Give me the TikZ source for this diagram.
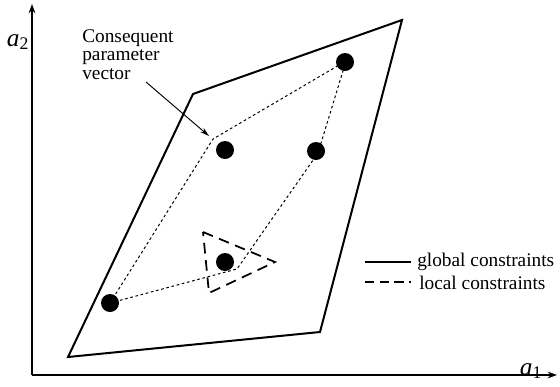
\documentclass[tikz,border=0pt]{standalone}
\usepackage{fontspec}
\setmainfont{Liberation Serif}
\usetikzlibrary{arrows.meta}

\begin{document}
\begin{tikzpicture}[x=0.75pt,y=-0.75pt,
    font=\fontsize{14.5}{14}\selectfont,
    axis/.style ={line width=1.1pt, -{Stealth[length=7pt,width=5pt]}},
    axislabel/.style ={font=\fontsize{19}{19}\selectfont},
    global/.style ={line width=1.5pt, line join=miter},
    local/.style ={line width=1.3pt, dash pattern=on 8pt off 5pt},
    hull/.style ={line width=0.75pt, dash pattern=on 2pt off 2pt},
    vec/.style ={circle, fill, inner sep=0pt, minimum size=13.5pt}]
   \useasboundingbox (0,0) rectangle (560,386);

   % axes
   \coordinate (O) at (32,375);
   \coordinate (Ytop) at (32,4);
   \coordinate (Xend) at (557,375);
   \draw[axis] (O) -- (Ytop);
   \draw[axis] (O) -- (Xend);
   \node[axislabel] (a2) at (18,42) {\textit{a}\textsubscript{2}};
   \node[axislabel] (a1) at (531,371) {\textit{a}\textsubscript{1}};

   % global constraints
   \coordinate (G1) at (68,357);
   \coordinate (G2) at (320,332);
   \coordinate (G3) at (402,20);
   \coordinate (G4) at (193,94);
   \draw[global] (G1) -- (G2) -- (G3) -- (G4) -- cycle;

   % consequent vectors
   \node[vec] (V1) at (345,62)  {};
   \node[vec] (V2) at (225,150) {};
   \node[vec] (V3) at (316,151) {};
   \node[vec] (V4) at (225,262) {};
   \node[vec] (V5) at (110,303) {};

   \coordinate (H1) at (110,303);
   \coordinate (H2) at (213,139);
   \coordinate (H3) at (346,61);
   \coordinate (H4) at (318,153);
   \coordinate (H5) at (237,269);
   \draw[hull] (H1) -- (H2) -- (H3) -- (H4) -- (H5) -- cycle;

   % local constraints
   \coordinate (L1) at (203,232);
   \coordinate (L2) at (275,262);
   \coordinate (L3) at (209,293);
   \draw[local] (L1) -- (L2) -- (L3) -- cycle;

   % annotation
   \node[align=left, anchor=north west, inner sep=0pt] (lbl) at (82,29)
      {Consequent\\parameter\\vector};
   \coordinate (tip) at (209,136);
   \draw[line width=0.7pt, -{Stealth[length=7pt,width=4pt]}] (146,82) -- (tip);

   % legend
   \coordinate (S1) at (365,262);
   \coordinate (S2) at (411,262);
   \coordinate (D1) at (365,282);
   \coordinate (D2) at (411,282);
   \draw[line width=1pt] (S1) -- (S2);
   \draw[line width=1pt, dash pattern=on 7pt off 4pt] (D1) -- (D2);
   \node[anchor=west, inner sep=0pt] (gl) at (417,262) {global constraints};
   \node[anchor=west, inner sep=0pt] (lc) at (419,283) {local constraints};
 \end{tikzpicture}
\end{document}
